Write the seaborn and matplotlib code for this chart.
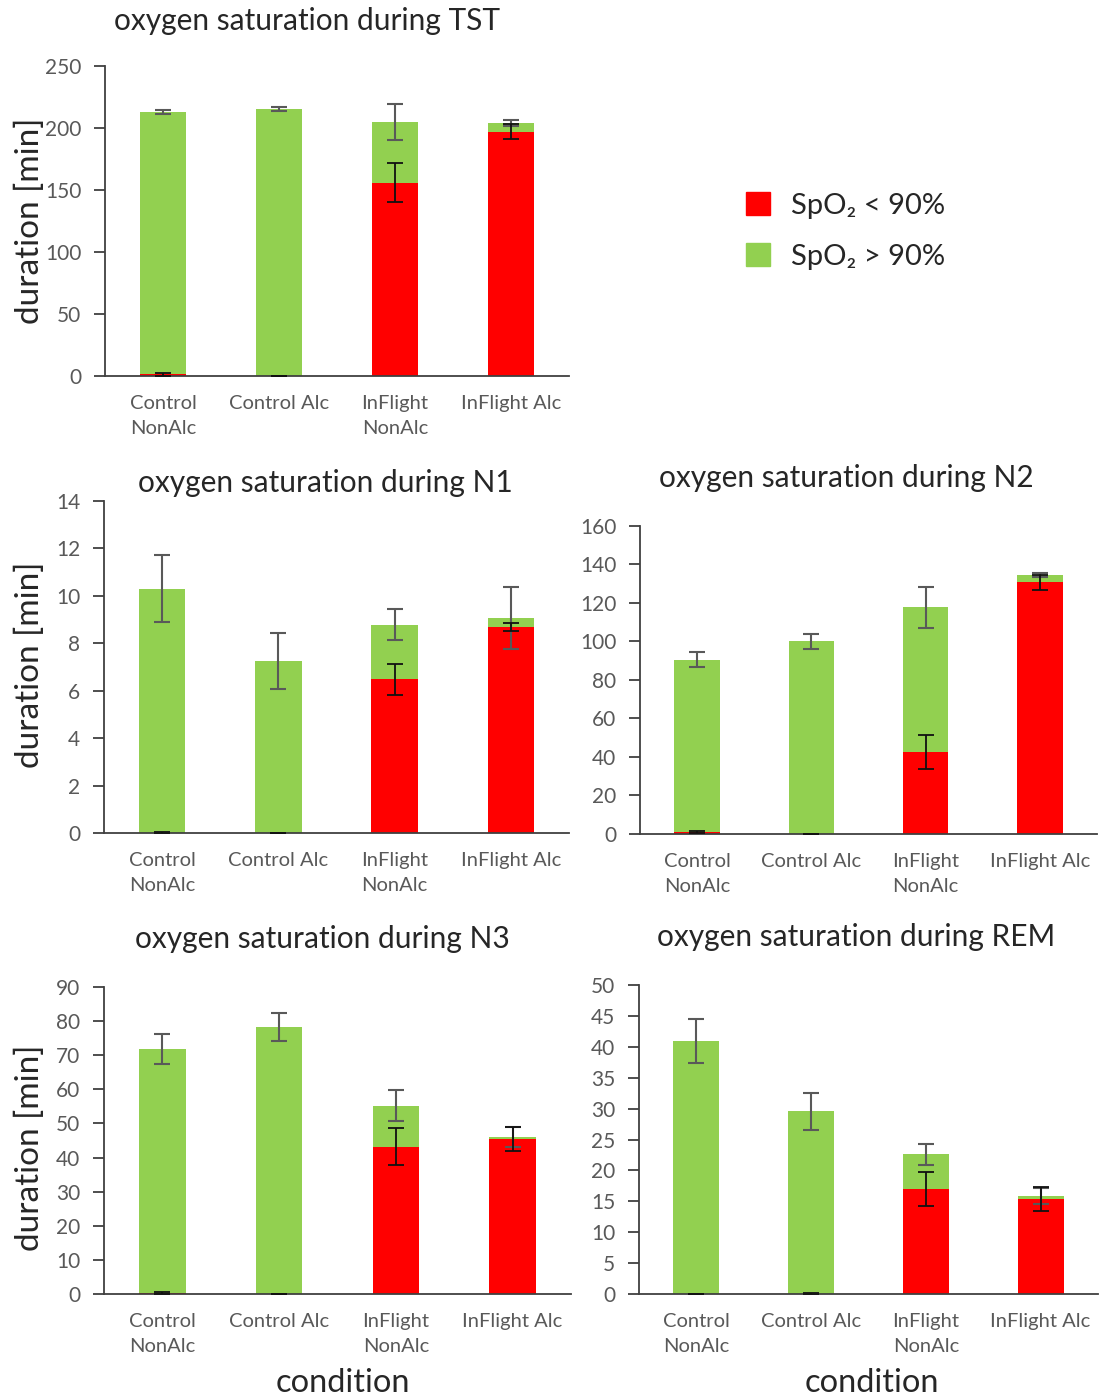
import matplotlib
matplotlib.use("Agg")
import matplotlib.pyplot as plt
import matplotlib.patches as mpatches
import seaborn as sns
import pandas as pd

sns.set_style("white")
plt.rcParams['font.family'] = ['Lato', 'DejaVu Sans']

conditions = ["Control\nNonAlc", "Control Alc", "InFlight\nNonAlc", "InFlight Alc"]

# mean minutes below 90% (red) and total minutes (red + green), with error sizes
tst_low = [1.4, 0.0, 156, 197]
tst_total = [213, 215.5, 204.5, 204]
tst_low_err = [1.0, 0.2, 15.5, 6.0]
tst_total_err = [1.5, 1.5, 14.5, 2.5]

n1_low = [0.0, 0.0, 6.48, 8.69]
n1_total = [10.3, 7.24, 8.79, 9.06]
n1_low_err = [0.03, 0.02, 0.65, 0.17]
n1_total_err = [1.42, 1.18, 0.66, 1.3]

n2_low = [1.0, 0.0, 42.6, 130.8]
n2_total = [90.5, 100.1, 117.7, 134.6]
n2_low_err = [0.7, 0.2, 8.6, 4.0]
n2_total_err = [4.0, 4.0, 10.5, 1.2]

n3_low = [0.3, 0.0, 43.2, 45.4]
n3_total = [71.8, 78.3, 55.2, 46.0]
n3_low_err = [0.3, 0.1, 5.5, 3.6]
n3_total_err = [4.45, 4.1, 4.5, 2.9]

rem_low = [0.0, 0.0, 17.0, 15.4]
rem_total = [40.9, 29.6, 22.6, 15.9]
rem_low_err = [0.0, 0.1, 2.75, 1.9]
rem_total_err = [3.6, 3.0, 1.65, 1.3]

RED = "#FF0000"
GREEN = "#92D050"
W, H = 1099, 1398

fig = plt.figure(figsize=(W / 100, H / 100), dpi=100)


def px_axes(left, top, right, bottom):
    return fig.add_axes([left / W, 1 - bottom / H, (right - left) / W, (bottom - top) / H])


def panel(ax, low, total, low_err, total_err, ymax, step):
    df = pd.DataFrame({"condition": conditions, "low": low, "total": total})
    sns.barplot(data=df, x="condition", y="total", color=GREEN, saturation=1,
                width=0.4, ax=ax, errorbar=None, linewidth=0)
    sns.barplot(data=df, x="condition", y="low", color=RED, saturation=1,
                width=0.4, ax=ax, errorbar=None, linewidth=0)
    xs = range(len(conditions))
    ax.errorbar(xs, total, yerr=total_err, fmt="none", ecolor="#595959",
                elinewidth=1.5, capsize=5.5, capthick=1.5, zorder=5)
    ax.errorbar(xs, low, yerr=low_err, fmt="none", ecolor="#111111",
                elinewidth=1.3, capsize=5.5, capthick=1.3, zorder=6)
    ax.set_xlim(-0.5, 3.5)
    ax.set_ylim(0, ymax)
    ax.set_yticks([i * step for i in range(int(round(ymax / step)) + 1)])
    ax.set_xlabel("")
    ax.set_ylabel("")
    for side in ["top", "right"]:
        ax.spines[side].set_visible(False)
    for side in ["left", "bottom"]:
        ax.spines[side].set_color("#404040")
        ax.spines[side].set_linewidth(1.3)
    ax.tick_params(axis="y", left=True, direction="out", length=8, width=1.3,
                   color="#404040", labelsize=15, labelcolor="#595959", pad=9)
    ax.tick_params(axis="x", bottom=False, labelsize=14.5, labelcolor="#595959", pad=10)
    for lab in ax.get_xticklabels():
        lab.set_linespacing(1.6)
        lab.set_va("top")


ax1 = px_axes(105, 66, 569, 376)
panel(ax1, tst_low, tst_total, tst_low_err, tst_total_err, 250, 50)
ax2 = px_axes(104, 501, 569, 833)
panel(ax2, n1_low, n1_total, n1_low_err, n1_total_err, 14, 2)
ax3 = px_axes(640, 526, 1097, 834)
panel(ax3, n2_low, n2_total, n2_low_err, n2_total_err, 160, 20)
ax4 = px_axes(104, 987, 571, 1294)
panel(ax4, n3_low, n3_total, n3_low_err, n3_total_err, 90, 10)
ax5 = px_axes(639, 985, 1098, 1294)
panel(ax5, rem_low, rem_total, rem_low_err, rem_total_err, 50, 5)


def ftext(x, y, s, **kw):
    fig.text(x / W, 1 - y / H, s, ha="center", va="center", **kw)


ftext(307, 21, "oxygen saturation during TST", fontsize=21.5)
ftext(325, 483, "oxygen saturation during N1", fontsize=21.5)
ftext(846, 478, "oxygen saturation during N2", fontsize=21.5)
ftext(322, 939, "oxygen saturation during N3", fontsize=21.5)
ftext(856, 937, "oxygen saturation during REM", fontsize=21.5)

for yc in [221, 665, 1148]:
    ftext(30, yc, "duration [min]", fontsize=24, rotation=90)
ftext(343, 1383, "condition", fontsize=23.5)
ftext(872, 1383, "condition", fontsize=23.5)

handles = [mpatches.Patch(color=RED, label="SpO\u2082 < 90%"),
           mpatches.Patch(color=GREEN, label="SpO\u2082 > 90%")]
fig.legend(handles=handles, loc="center left", bbox_to_anchor=(731 / W, 1 - 231 / H),
           frameon=False, fontsize=21, handlelength=0.82, handleheight=0.82,
           handletextpad=0.75, labelspacing=0.85, borderpad=0)

fig.savefig("out.png", dpi=100)
